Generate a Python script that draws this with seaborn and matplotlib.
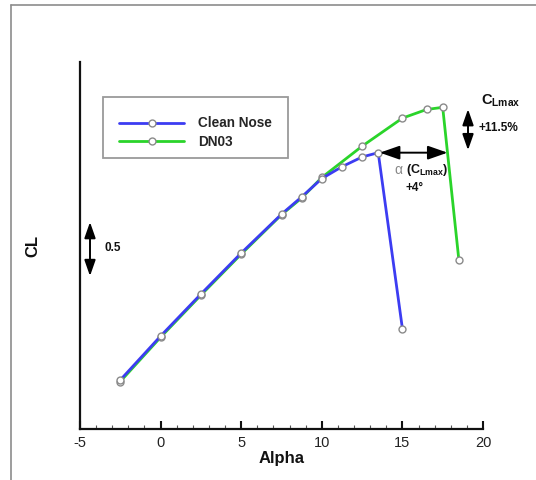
import matplotlib
matplotlib.use('Agg')
import matplotlib.pyplot as plt
import seaborn as sns
import pandas as pd
from matplotlib.lines import Line2D
from matplotlib.patches import Rectangle

# ---- data ----
series = ['Clean Nose', 'DN03']
alpha_clean = [-2.5, 0, 2.5, 5, 7.5, 8.75, 10, 11.25, 12.5, 13.5, 15]
cl_clean = [0.454, 0.861, 1.25, 1.63, 1.99, 2.15, 2.32, 2.43, 2.52, 2.56, 0.93]
alpha_dn03 = [-2.5, 0, 2.5, 5, 7.5, 8.75, 10, 12.5, 15, 16.5, 17.5, 18.5]
cl_dn03 = [0.44, 0.85, 1.24, 1.62, 1.985, 2.14, 2.33, 2.62, 2.88, 2.96, 2.98, 1.57]
xticks = [-5, 0, 5, 10, 15, 20]
colors = {'Clean Nose': '#3c3cf2', 'DN03': '#2ad42a'}

sns.set_theme(style='white')
plt.rcParams['font.family'] = ['Liberation Sans', 'DejaVu Sans']
plt.rcParams['mathtext.fontset'] = 'custom'
plt.rcParams['mathtext.rm'] = 'Liberation Sans'
plt.rcParams['mathtext.bf'] = 'Liberation Sans:bold'
plt.rcParams['mathtext.it'] = 'Liberation Sans:italic'

df_clean = pd.DataFrame({'Alpha': alpha_clean, 'CL': cl_clean, 'Series': series[0]})
df_dn = pd.DataFrame({'Alpha': alpha_dn03, 'CL': cl_dn03, 'Series': series[1]})

fig = plt.figure(figsize=(5.36, 4.8), dpi=100)
ax = fig.add_axes([80/536, 1-429/480, 403/536, 367/480])

mk = dict(marker='o', markersize=5, markerfacecolor='white',
          markeredgecolor='#8a8a8a', markeredgewidth=1.0, linewidth=2.0)
sns.lineplot(data=df_dn, x='Alpha', y='CL', color=colors['DN03'], sort=False,
             estimator=None, ax=ax, **mk)
sns.lineplot(data=df_clean, x='Alpha', y='CL', color=colors['Clean Nose'], sort=False,
             estimator=None, ax=ax, **mk)

ax.set_xlim(-5, 20)
ax.set_ylim(0, 3.4)
ax.set_xticks(xticks)
ax.set_xticklabels([str(t) for t in xticks])
ax.set_xticks(range(-5, 21), minor=True)
ax.set_yticks([])
for s in ['top', 'right']:
    ax.spines[s].set_visible(False)
for s in ['left', 'bottom']:
    ax.spines[s].set_color('#111111')
    ax.spines[s].set_linewidth(1.6)
ax.tick_params(axis='x', which='major', direction='in', length=6, width=1.5,
               color='#111111', pad=5, labelsize=10.5, labelcolor='#222222', bottom=True)
ax.tick_params(axis='x', which='minor', direction='in', length=3, width=0.8,
               color='#555555', bottom=True)

ax.set_xlabel('Alpha', fontsize=12, fontweight='bold', labelpad=1, color='#111111')
ax.set_ylabel('CL', fontsize=12, fontweight='bold', color='#111111')
ax.yaxis.set_label_coords(-0.099, 0.50)

# legend
ax.add_patch(Rectangle((0.057, 0.738), 0.459, 0.167, transform=ax.transAxes,
                       fill=False, edgecolor='#9a9a9a', lw=1.3, clip_on=False))
handles = [Line2D([0], [0], color=colors[s], lw=2, marker='o', markersize=5,
                  markerfacecolor='white', markeredgecolor='#8a8a8a') for s in series]
ax.legend(handles, series, loc='upper left', bbox_to_anchor=(0.0968, 0.852),
          frameon=False, borderpad=0, borderaxespad=0, handlelength=4.8,
          handletextpad=1.0, labelspacing=0.35,
          prop=dict(weight='bold', size=9.8))

# annotations
arr = dict(color='black', lw=1.4, shrinkA=0, shrinkB=0)
ax.annotate('', xy=(13.6, 2.56), xytext=(17.8, 2.56),
            arrowprops=dict(arrowstyle='<|-|>,head_length=1.0,head_width=0.35', **arr))
ax.annotate('', xy=(19.07, 2.963), xytext=(19.07, 2.583),
            arrowprops=dict(arrowstyle='<|-|>,head_length=0.8,head_width=0.28', **arr))
ax.annotate('', xy=(-4.38, 1.917), xytext=(-4.38, 1.417),
            arrowprops=dict(arrowstyle='<|-|>,head_length=0.8,head_width=0.28', **arr))

ax.text(14.98, 2.40, 'α', fontsize=10, color='#888888', ha='right', va='center')
ax.text(15.25, 2.40, r'$\mathbf{(C_{Lmax})}$', fontsize=9, color='#111111', ha='left', va='center')
ax.text(15.78, 2.23, '+4°', fontsize=8.5, fontweight='bold', color='#111111',
        ha='center', va='center')
ax.text(19.88, 3.04, r'$\mathbf{C_{Lmax}}$', fontsize=10.5, color='#111111',
        ha='left', va='center', clip_on=False)
ax.text(19.69, 2.787, '+11.5%', fontsize=8.5, fontweight='bold', color='#111111',
        ha='left', va='center', clip_on=False)
ax.text(-3.45, 1.676, '0.5', fontsize=8.5, fontweight='bold', color='#111111',
        ha='left', va='center')

# outer frame lines (left and top)
fig.add_artist(Line2D([11/536, 11/536], [0, 1-5/480], transform=fig.transFigure,
                      color='#8c8c8c', lw=1.2))
fig.add_artist(Line2D([11/536, 1], [1-5/480, 1-5/480], transform=fig.transFigure,
                      color='#8c8c8c', lw=1.2))

fig.savefig('out.png', dpi=100)
